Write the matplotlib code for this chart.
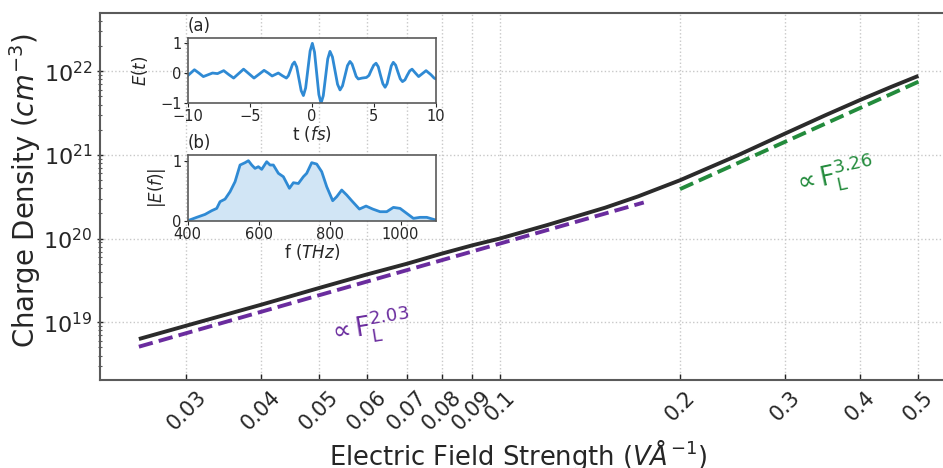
import numpy as np
import matplotlib
matplotlib.use("Agg")
import matplotlib.pyplot as plt
from matplotlib.ticker import LogLocator, NullFormatter, FixedLocator, FixedFormatter, NullLocator

# ---------------- data ----------------
field = [0.025, 0.03, 0.04, 0.05, 0.06, 0.07, 0.08, 0.09, 0.1, 0.12, 0.15, 0.17,
         0.2, 0.25, 0.3, 0.35, 0.4, 0.45, 0.5]
density = [6.3e18, 9.1e18, 1.62e19, 2.57e19, 3.72e19, 5.0e19, 6.6e19, 8.3e19, 1.0e20,
           1.45e20, 2.34e20, 3.18e20, 4.98e20, 9.93e20, 1.81e21, 2.99e21, 4.55e21,
           6.49e21, 8.81e21]

fit_low_x = [0.025, 0.174]
fit_low_y = [5.1e18, 2.7e20]
fit_high_x = [0.2, 0.5]
fit_high_y = [3.9e20, 7.5e21]

xtick_vals = [0.03, 0.04, 0.05, 0.06, 0.07, 0.08, 0.09, 0.1, 0.2, 0.3, 0.4, 0.5]
xtick_labels = ["0.03", "0.04", "0.05", "0.06", "0.07", "0.08", "0.09", "0.1",
                "0.2", "0.3", "0.4", "0.5"]

t_fs = [-10.0, -9.73, -9.46, -9.10, -8.74, -8.37, -8.0, -7.6, -7.1, -6.7, -6.3, -5.9,
        -5.5, -5.08, -4.66, -4.25, -3.85, -3.52, -3.2, -2.95, -2.7, -2.38, -2.05,
        -1.89, -1.72, -1.56, -1.4, -1.22, -1.04, -0.86, -0.68, -0.50, -0.32, -0.14,
        0.04, 0.215, 0.39, 0.565, 0.74, 0.92, 1.10, 1.28, 1.46, 1.66, 1.865, 2.07,
        2.27, 2.47, 2.67, 2.87, 3.07, 3.24, 3.405, 3.57, 3.74, 4.05, 4.4, 4.6, 4.78,
        4.98, 5.17, 5.35, 5.53, 5.72, 5.9, 6.06, 6.23, 6.4, 6.56, 6.75, 6.93, 7.12,
        7.3, 7.5, 7.68, 7.88, 8.07, 8.33, 8.6, 8.9, 9.2, 9.6, 9.85, 10.0]
E_t = [-0.09, 0.01, 0.11, 0.0, -0.12, -0.06, 0.0, -0.02, 0.08, -0.05, -0.17, -0.02,
       0.13, -0.02, -0.17, -0.04, 0.09, 0.0, -0.10, -0.05, 0.0, -0.09, -0.17,
       -0.09, 0.10, 0.29, 0.37, 0.205, -0.195, -0.595, -0.76, -0.503, 0.12, 0.743,
       1.0, 0.705, -0.01, -0.725, -1.02, -0.765, -0.145, 0.475, 0.73, 0.54, 0.08, -0.38,
       -0.57, -0.43, -0.09, 0.25, 0.39, 0.30, 0.095, -0.115, -0.2, -0.17, -0.15, -0.08,
       0.09, 0.26, 0.33, 0.21, -0.075, -0.36, -0.48, -0.36, -0.06, 0.24, 0.36, 0.265,
       0.035, -0.195, -0.29, -0.23, -0.08, 0.07, 0.13, 0.005, -0.12, -0.02, 0.08, -0.06,
       -0.17, -0.2]

f_thz = [400, 425.4, 448.9, 467.7, 481.8, 491.2, 505.3, 519.4, 533.5, 547.6, 561.7,
         571.1, 580.5, 589.8, 599.2, 608.6, 622.7, 632.1, 641.5, 655.6, 669.7, 686.7,
         697.9, 712.0, 726.1, 735.5, 749.6, 763.7, 777.8, 791.9, 808.8, 820.1, 834.2,
         848.3, 862.4, 884.0, 902.8, 921.6, 942.3, 961.1, 979.9, 998.7, 1017.5, 1036.3,
         1055.1, 1073.9, 1100]
E_f = [0.0, 0.056, 0.105, 0.167, 0.205, 0.317, 0.36, 0.483, 0.65, 0.928, 0.967, 1.0,
       0.928, 0.872, 0.9, 0.856, 0.983, 0.928, 0.928, 0.79, 0.733, 0.54, 0.633, 0.62,
       0.733, 0.79, 0.967, 0.944, 0.817, 0.567, 0.333, 0.4, 0.511, 0.428, 0.333, 0.194,
       0.244, 0.194, 0.15, 0.15, 0.222, 0.205, 0.122, 0.039, 0.056, 0.056, 0.01]

# ---------------- style ----------------
plt.rcParams['font.family'] = ['DejaVu Sans']
plt.rcParams['mathtext.fontset'] = 'dejavusans'
TXT = '#262626'
SPINE = '#5a5a5a'
BLUE = '#2f8ad4'
PURPLE = '#6a2c9e'
GREEN = '#238b3c'

fig = plt.figure(figsize=(9.43, 4.68), dpi=100)
W, H = 943.0, 468.0

def pos(l, t, r, b):
    return [l / W, 1 - b / H, (r - l) / W, (b - t) / H]

AX_L, AX_T, AX_R, AX_B = 100, 13.3, 965, 380
ax = fig.add_axes(pos(AX_L, AX_T, AX_R, AX_B))
ax.set_xscale('log')
ax.set_yscale('log')
ax.plot(field, density, color='#2b2b2b', lw=2.8, solid_capstyle='butt', zorder=3)
ax.plot(fit_low_x, fit_low_y, color=PURPLE, lw=2.8, ls='--', zorder=3)
ax.plot(fit_high_x, fit_high_y, color=GREEN, lw=2.8, ls='--', zorder=3)

ax.set_xlim(0.02153, 0.598)
ax.set_ylim(2.04e18, 4.93e22)

ax.xaxis.set_major_locator(FixedLocator(xtick_vals))
ax.xaxis.set_major_formatter(FixedFormatter(xtick_labels))
ax.xaxis.set_minor_locator(NullLocator())
ax.yaxis.set_major_locator(LogLocator(base=10, numticks=10))
ax.yaxis.set_minor_locator(LogLocator(base=10, subs=np.arange(2, 10), numticks=20))
ax.yaxis.set_minor_formatter(NullFormatter())

ax.tick_params(axis='x', which='major', labelsize=15, colors=TXT, length=4,
               width=1, direction='in', labelrotation=45, pad=5)
ax.tick_params(axis='y', which='major', labelsize=16, colors=TXT, length=4,
               width=1, direction='inout')
ax.tick_params(axis='y', which='minor', length=3, width=0.8, direction='inout',
               color=SPINE)

ax.grid(True, which='major', color='#c8c8c8', ls=':', lw=1.0)
for s in ax.spines.values():
    s.set_color(SPINE)
    s.set_linewidth(1.5)

axw = AX_R - AX_L
axh = AX_B - AX_T
ax.set_xlabel(r'Electric Field Strength ($V\AA^{-1}$)', fontsize=18.5, color=TXT)
ax.xaxis.set_label_coords((518 - AX_L) / axw, (AX_B - 437) / axh)
ax.xaxis.label.set_va('top')
ax.set_ylabel(r'Charge Density ($cm^{-3}$)', fontsize=19.8, color=TXT)
ax.yaxis.set_label_coords((25 - AX_L) / axw, (AX_B - 191) / axh)
ax.yaxis.label.set_va('center')

ax.text(0.0604, 8.8e18, r'$\propto \mathrm{F}_{\mathrm{L}}^{2.03}$', color=PURPLE,
        fontsize=18.5, rotation=9, ha='center', va='center')
ax.text(0.36, 5.6e20, r'$\propto \mathrm{F}_{\mathrm{L}}^{3.26}$', color=GREEN,
        fontsize=18.5, rotation=12, ha='center', va='center')

# ---------------- inset (a) ----------------
A_L, A_R = 187.7, 436
axa = fig.add_axes(pos(A_L, 38.3, A_R, 102.7))
axa.plot(t_fs, E_t, color=BLUE, lw=2.0)
axa.set_xlim(-10, 10)
axa.set_ylim(-1.0, 1.17)
axa.set_xticks([-10, -5, 0, 5, 10])
axa.set_yticks([-1, 0, 1])
axa.set_xlabel(r't ($fs$)', fontsize=12, color=TXT, labelpad=0)
axa.set_ylabel(r'$E(t)$', fontsize=12, color=TXT)
axa.yaxis.set_label_coords((140 - A_L) / (A_R - A_L), 0.5)
axa.yaxis.label.set_va('center')
axa.text(0.0, 1.05, '(a)', transform=axa.transAxes, fontsize=12, color=TXT,
         ha='left', va='bottom')

# ---------------- inset (b) ----------------
axb = fig.add_axes(pos(A_L, 155, A_R, 220.7))
axb.plot(f_thz, E_f, color=BLUE, lw=2.0)
axb.fill_between(f_thz, E_f, 0, color=BLUE, alpha=0.22, lw=0)
axb.set_xlim(400, 1100)
axb.set_ylim(0, 1.095)
axb.set_xticks([400, 600, 800, 1000])
axb.set_yticks([0, 1])
axb.set_xlabel(r'f ($THz$)', fontsize=12, color=TXT, labelpad=0)
axb.set_ylabel(r'$|E(f)|$', fontsize=12, color=TXT)
axb.yaxis.set_label_coords((157 - A_L) / (A_R - A_L), 0.5)
axb.yaxis.label.set_va('center')
axb.text(0.0, 1.05, '(b)', transform=axb.transAxes, fontsize=12, color=TXT,
         ha='left', va='bottom')

for a in (axa, axb):
    a.tick_params(labelsize=10.5, colors=TXT, length=3, width=0.8, pad=1.5)
    for s in a.spines.values():
        s.set_color(SPINE)
        s.set_linewidth(1.2)
    a.set_facecolor('white')

fig.savefig('out.png', dpi=100)
